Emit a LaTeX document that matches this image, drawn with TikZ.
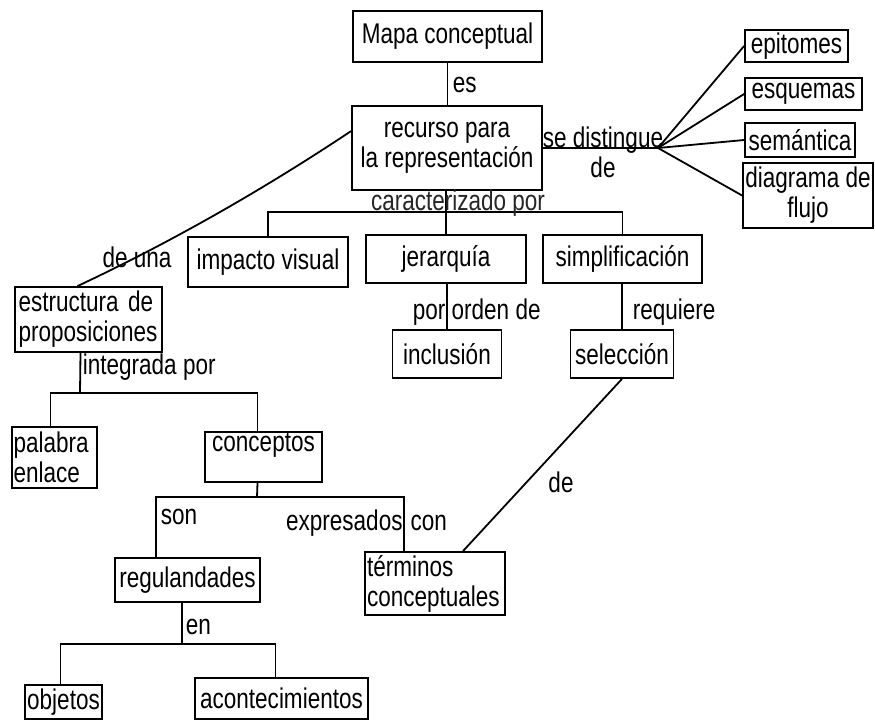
\documentclass[tikz,border=0pt]{standalone}
\usepackage{fontspec}
\setmainfont{Liberation Sans}[FakeStretch=0.79]
\usetikzlibrary{calc}
\begin{document}
\begin{tikzpicture}[x=1pt,y=-1pt,
  font=\fontsize{28.5}{30}\selectfont,
  line width=1.8pt,
  box/.style={draw, rectangle, inner sep=0pt, align=center},
  lbl/.style={inner sep=0pt}]
\useasboundingbox[fill=white] (0,0) rectangle (875,720);

% boxes
\node[box, minimum width=189pt, minimum height=51pt] (mapa) at (447.5,36.5) {Mapa conceptual};
\node[box, minimum width=190pt, minimum height=84pt] (recurso) at (447,148) {recurso para\\la representación};
\node[box, minimum width=103pt, minimum height=32pt] (epi) at (796.5,46) {epitomes};
\node[box, minimum width=117pt, minimum height=32pt] (esq) at (803.5,94) {esquemas};
\node[box, minimum width=110pt, minimum height=34pt] (sem) at (800,140) {semántica};
\node[box, minimum width=130pt, minimum height=65pt] (diag) at (808,195.5) {diagrama de\\flujo};
\node[box, minimum width=160pt, minimum height=50pt] (imp) at (268,262) {impacto visual};
\node[box, minimum width=160pt, minimum height=48pt] (jer) at (446,259) {jerarquía};
\node[box, minimum width=159pt, minimum height=48pt] (sim) at (622.5,259) {simplificación};
\node[box, minimum width=109pt, minimum height=48pt] (inc) at (447,354) {inclusión};
\node[box, minimum width=103pt, minimum height=48pt] (sel) at (622,354) {selección};
\node[box, minimum width=147pt, minimum height=65pt, text width=140pt, align=left] (est) at (88.5,319.5) {estructura de\\proposiciones};
\node[box, minimum width=85pt, minimum height=61pt, text width=82pt, align=left] (pal) at (54.5,457.5) {palabra\\enlace};
\node[box, minimum width=117pt, minimum height=50pt] (con) at (263.5,457) {conceptos\\\mbox{}};
\node[box, minimum width=140pt, minimum height=63pt, text width=136pt, align=left] (ter) at (435,583.5) {términos\\conceptuales};
\node[box, minimum width=145pt, minimum height=44pt] (reg) at (187.5,580) {regulandades};
\node[box, minimum width=77pt, minimum height=34pt] (obj) at (63.5,702) {objetos};
\node[box, minimum width=173pt, minimum height=41pt] (aco) at (281.5,698.5) {acontecimientos};

% coordinates
\coordinate (hub) at (658,148);
\coordinate (cbus) at (446,212);
\coordinate (ibus) at (80,393);
\coordinate (cbus2) at (257,497);
\coordinate (ebus) at (182,644);

% connectors
\draw (mapa.south) -- (mapa.south |- recurso.north);
\node[lbl, anchor=west] (les) at (452,85) {es};

\draw (recurso.east) -- (hub);
\draw (hub) -- (epi.west);
\draw (hub) -- (esq.west);
\draw (hub) -- (sem.west);
\draw (hub) -- (diag.west);
\node[lbl, align=center] (lsd) at (603,152) {se distingue\\de};

\draw (recurso.south -| jer.north) -- (jer.north);
\draw (imp.north) |- (cbus) -| (sim.north);
\node[lbl, text=black!85] (lcar) at (458,203) {caracterizado por};

\draw (jer.south -| inc.north) -- (inc.north);
\node[lbl, anchor=west] (lpor) at (412,312) {por orden de};
\draw (sim.south -| sel.north) -- (sel.north);
\node[lbl, anchor=west] (lreq) at (632,312) {requiere};
\draw (sel.south) -- ($(ter.north)+(28,0)$);
\node[lbl] (lde) at (561,482) {de};

\draw (recurso.170) .. controls (258,193) and (167,244) .. ($(est.north)+(-11,0)$);
\node[lbl] (luna) at (137,257) {de una};

\draw ($(est.south)+(-8,0)$) -- (ibus);
\draw ($(pal.north)+(-4,0)$) |- (ibus) -| ($(con.north)+(-6,0)$);
\node[lbl, anchor=west] (lint) at (82,367) {integrada por};

\draw ($(con.south)+(-6,0)$) -- (cbus2);
\draw ($(reg.north west)+(42,0)$) |- (cbus2) -| ($(ter.north west)+(40,0)$);
\node[lbl, anchor=west] (lson) at (160,517) {son};
\node[lbl] (lexp) at (366.5,523) {expresados\hspace{8pt}con};

\draw ($(reg.south)+(-5.5,0)$) -- (ebus);
\draw ($(obj.north)+(-3,0)$) |- (ebus) -| ($(aco.north)+(-6,0)$);
\node[lbl, anchor=west] (len) at (185,627) {en};
\end{tikzpicture}
\end{document}
